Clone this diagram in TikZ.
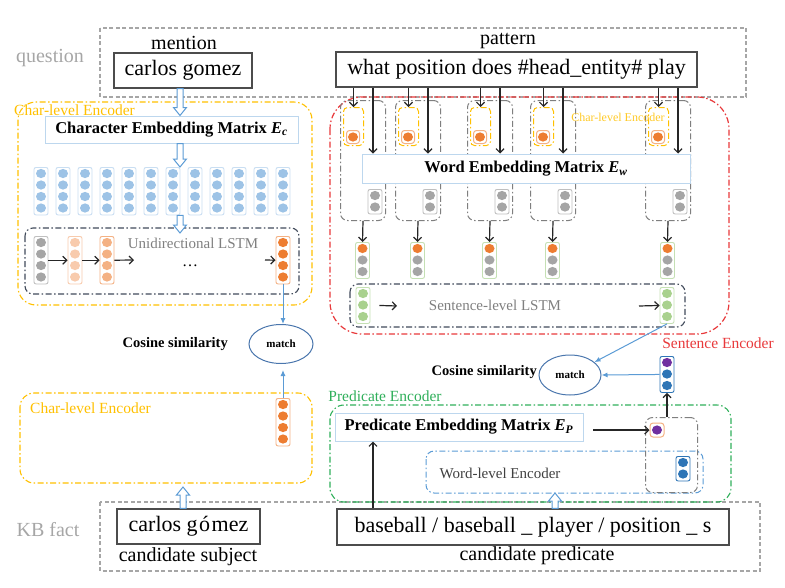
\documentclass[tikz,border=0pt]{standalone}
\usepackage{fontspec}
\setmainfont{Liberation Serif}
\usetikzlibrary{shapes.geometric,arrows.meta,calc}
\definecolor{qgray}{HTML}{A6A6A6}
\definecolor{cyel}{HTML}{FFC000}
\definecolor{cred}{HTML}{E8393B}
\definecolor{cgreen}{HTML}{2FAF5A}
\definecolor{lblue}{HTML}{BDD7EE}
\definecolor{cblue}{HTML}{9DC3E6}
\definecolor{cblueb}{HTML}{C9DEF2}
\definecolor{corange}{HTML}{ED7D31}
\definecolor{corangeb}{HTML}{F4B183}
\definecolor{clorange}{HTML}{F8CBAD}
\definecolor{cmorange}{HTML}{F4B183}
\definecolor{cgrayc}{HTML}{A5A5A5}
\definecolor{cgrayb}{HTML}{BFBFBF}
\definecolor{cgreenc}{HTML}{A9D18E}
\definecolor{cgreenb}{HTML}{C5E0B4}
\definecolor{cdblue}{HTML}{2E75B6}
\definecolor{cpurple}{HTML}{7030A0}
\definecolor{ellc}{HTML}{4A76AD}
\definecolor{lineblue}{HTML}{5B9BD5}
\definecolor{dkdash}{HTML}{404A5A}
\definecolor{unitgray}{HTML}{7F7F7F}
\definecolor{txtgray}{HTML}{7F7F7F}
\definecolor{arrblk}{HTML}{262626}

\newcommand\vstack[6]{%
  \node[draw=#5, line width=0.9pt, rounded corners=2pt, fill=white, minimum width=14pt,
        minimum height={#4*11.5+1.5}, inner sep=0pt, anchor=north] (#1) at (#2,#3) {};
  \foreach \cc [count=\ii] in {#6} {\fill[\cc] (#2,{#3+6.5+(\ii-1)*11.5}) ellipse [x radius=5, y radius=4.6];}
}
\newcommand\hollowarr[2]{%
  \draw[hollow] let \p1=(#1), \p2=(#2), \n1={8*sign(\y1-\y2)} in
   (\x2-3pt,\y1) -- (\x2-3pt,\y2+\n1) -- (\x2-6.5pt,\y2+\n1) -- (\x2,\y2) --
   (\x2+6.5pt,\y2+\n1) -- (\x2+3pt,\y2+\n1) -- (\x2+3pt,\y1) -- cycle;}

\tikzset{
  qbox/.style={draw=qgray, line width=1.1pt, dash pattern=on 4pt off 2.5pt},
  dd/.style={dash pattern=on 6pt off 2.5pt on 1.5pt off 2.5pt},
  yenc/.style={draw=cyel, line width=1.1pt, dd, rounded corners=18pt},
  renc/.style={draw=cred, line width=1.2pt, dd, rounded corners=32pt},
  genc/.style={draw=cgreen, line width=1.1pt, dd, rounded corners=14pt},
  benc/.style={draw=lineblue, line width=1pt, dd, rounded corners=8pt},
  lstm/.style={draw=dkdash, line width=1.1pt, dd, rounded corners=8pt},
  unitbox/.style={draw=unitgray, line width=1pt, dd, rounded corners=7pt, inner sep=0pt},
  ybox/.style={draw=cyel, line width=1pt, dd, rounded corners=4pt, inner sep=0pt},
  txtbox/.style={draw=black!70, line width=1.2pt, fill=white, inner sep=0pt, font=\fontsize{22}{24}\selectfont},
  embbox/.style={draw=lblue, line width=1pt, fill=white, inner sep=0pt, font=\fontsize{16.5}{18}\selectfont},
  lab/.style={font=\fontsize{20}{22}\selectfont},
  glab/.style={font=\fontsize{20}{22}\selectfont, text=qgray},
  ylab/.style={font=\fontsize{15.5}{17}\selectfont, text=cyel, inner sep=0pt},
  mlab/.style={font=\fontsize{15}{17}\selectfont, text=txtgray, inner sep=0pt},
  cos/.style={font=\bfseries\fontsize{14.5}{16}\selectfont, inner sep=0pt},
  matchn/.style={ellipse, draw=ellc, line width=1pt, minimum width=64pt, minimum height=39pt, inner sep=0pt, font=\bfseries\fontsize{11}{12}\selectfont},
  hollow/.style={draw=lineblue, line width=1pt, fill=white},
  blk/.style={draw=arrblk, line width=1.2pt, -{Straight Barb[length=4pt,width=8pt]}},
  blu/.style={draw=lineblue, line width=1pt, -{Latex[length=6pt,width=5pt]}},
  orsq/.style={draw=corangeb, line width=1pt, rounded corners=3pt, fill=white, minimum size=14pt, inner sep=0pt}
}

\begin{document}
\begin{tikzpicture}[x=1pt,y=-1pt]
\useasboundingbox (0,0) rectangle (785,587);

% ---------- question ----------
\draw[qbox] (100,28) rectangle (746,97);
\node[glab] (qlab) at (50,58) {question};
\node[lab] (ment) at (184,43) {mention};
\node[txtbox, minimum width=138, minimum height=35] (cg) at (183,70.5) {carlos gomez};
\node[lab] (patl) at (508,41) {pattern};
\node[txtbox, minimum width=361, minimum height=35] (pat) at (516.5,69.5) {what position does \#head\_entity\# play};

% ---------- left char-level encoder ----------
\draw[yenc] (18,102) rectangle (312,305);
\node[ylab, anchor=west] (ylab1) at (14,110) {Char-level Encoder};
\node[embbox, minimum width=253, minimum height=27] (ce) at (171.5,129.5) {\bfseries Character Embedding Matrix \textit{E}\textsubscript{\textit{c}}};
\hollowarr{cg.south -| 180,0}{ce.north -| 180,0}
\foreach \k in {0,...,11} {
  \vstack{bc\k}{41+22*\k}{167}{4}{cblueb}{cblue,cblue,cblue,cblue}
}
\hollowarr{ce.south -| 180,0}{bc6.north -| 180,0}
\draw[lstm] (25,228) rectangle (299,294);
\node[mlab] (ulab) at (193,243) {Unidirectional LSTM};
\hollowarr{bc6.south -| 180,0}{180,233}
\vstack{lg}{41}{236}{4}{cgrayb}{cgrayc,cgrayc,cgrayc,cgrayc}
\vstack{lo1}{75}{236}{4}{clorange}{clorange,clorange,clorange,clorange}
\vstack{lo2}{107}{236}{4}{cmorange}{cmorange,cmorange,cmorange,cmorange}
\vstack{lo3}{283}{236}{4}{corangeb}{corange,corange,corange,corange}
\coordinate (lfree) at (134,260);
\coordinate (lfree2) at (265,260);
\draw[blk] (lg.east) -- (lo1.west);
\draw[blk] (lo1.east) -- (lo2.west);
\draw[blk] (lo2.east) -- (lfree);
\draw[blk] (lfree2) -- (lo3.west);
\node[font=\fontsize{16}{18}\selectfont, inner sep=0pt, text height=2pt, text depth=0pt, anchor=base] (dots) at (190,266) {\ldots};

% ---------- match left ----------
\node[matchn] (m1) at (281,344) {match};
\node[cos, anchor=east] (cos1) at (228,344) {Cosine similarity};
\draw[blu] (lo3.south) -- (m1.north -| lo3.south);

% ---------- left lower char encoder ----------
\draw[yenc, rounded corners=14pt] (20,393) rectangle (312,483);
\node[ylab, anchor=west] (ylab2) at (30,408) {Char-level Encoder};
\vstack{lo4}{283}{398}{4}{corangeb}{corange,corange,corange,corange}
\draw[blu] (lo4.north) -- ($(m1.south -| lo4.north)+(0,6)$);

% ---------- KB fact ----------
\draw[qbox] (100,502) rectangle (760,571);
\node[glab] (kblab) at (48,530) {KB fact};
\node[txtbox, minimum width=143, minimum height=35] (cs) at (188.5,526.5) {carlos g\kern1.5pt ó\kern1.5pt mez};
\node[lab] (csl) at (188,557) {candidate subject};
\hollowarr{cs.north -| 183,0}{183,487}
\node[txtbox, minimum width=392, minimum height=36] (cp) at (533,527) {baseball / baseball \_ player / position \_ s};
\node[lab] (cpl) at (537,556) {candidate predicate};

% ---------- sentence encoder (red) ----------
\draw[renc] (330,97) rectangle (729,334);
\foreach \i/\xl in {1/340,2/395,3/467,4/530,5/645} {
  \node[unitbox, minimum width=45, minimum height=120, anchor=north west] (u\i) at (\xl,100) {};
  \node[ybox, minimum width=20, minimum height=38, anchor=north west] (y\i) at (\xl+3,107) {};
  \node[orsq, minimum size=13pt] (o\i) at (\xl+13,137) {};
  \fill[corange] (o\i.center) ellipse [x radius=5, y radius=4.6];
  \vstack{g\i}{\xl+35}{189}{2}{cgrayb}{cgrayc,cgrayc}
  \coordinate (lx\i) at (\xl+33,0);
}
\node[font=\fontsize{12}{13}\selectfont, text=cyel!85] (ylab3) at (618,117) {Char-level Encoder};
\node[embbox, minimum width=328, minimum height=29] (we) at (526,168.5) {\bfseries Word Embedding Matrix \textit{E}\textsubscript{\textit{w}}};
\foreach \i in {1,...,5} {
  \draw[blk] (pat.south -| y\i.north) -- (y\i.north);
  \draw[blk] (pat.south -| lx\i) -- (we.north -| lx\i);
}
\foreach \i/\xx in {1/362.5,2/417.5,3/489.5,4/552.5,5/667.5} {
  \vstack{mv\i}{\xx}{242}{3}{cgreenb}{corange,cgrayc,cgrayc}
  \draw[blk] (u\i.south) -- (mv\i.north);
}
\draw[lstm] (350,284) rectangle (685,327);
\vstack{sg1}{363}{287}{3}{cgreenb}{cgreenc,cgreenc,cgreenc}
\vstack{sg2}{667}{287}{3}{cgreenb}{cgreenc,cgreenc,cgreenc}
\node[mlab] (slab) at (495,305) {Sentence-level LSTM};
\coordinate (sf1) at (397,306);
\coordinate (sf2) at (639,306);
\draw[blk] ($(sg1.east)+(9,0)$) -- (sf1);
\draw[blk] (sf2) -- (sg2.west);
\node[font=\fontsize{15.5}{17}\selectfont, text=cred] (rlab) at (718,343) {Sentence Encoder};

% ---------- match right ----------
\node[matchn, minimum width=62pt, minimum height=40pt] (m2) at (570,375) {match};
\node[cos, anchor=east] (cos2) at (537,372) {Cosine similarity};
\vstack{sv}{667}{356}{3}{cdblue}{cpurple,cdblue,cdblue}
\draw[blu] (sg2.south) -- (m2);
\draw[blu] (sv.west) -- (m2.east);

% ---------- predicate encoder ----------
\draw[genc] (330,405) rectangle (731,502);
\node[font=\fontsize{15.5}{17}\selectfont, text=cgreen] (glab) at (385,396) {Predicate Encoder};
\node[embbox, minimum width=248, minimum height=28] (pe) at (459,427) {\bfseries Predicate Embedding Matrix \textit{E}\textsubscript{\textit{P}}};
\draw[benc] (426,451) rectangle (703,493);
\node[font=\fontsize{15}{17}\selectfont, text=black!75] (wlab) at (500,473) {Word-level Encoder};
\node[unitbox, minimum width=52, minimum height=75, anchor=north west] (pu) at (645,417) {};
\node[orsq] (pp) at (657,430) {};
\fill[cpurple] (pp.center) ellipse [x radius=5, y radius=4.6];
\vstack{bv}{683}{456}{2}{cdblue}{cdblue,cdblue}
\coordinate (pef) at (593,430);
\draw[blk] (pef) -- (pp.west);
\draw[blk] (pu.north -| sv.south) -- (sv.south);
\draw[blk] (cp.north -| 373,0) -- (pe.south -| 373,0);
\hollowarr{cp.north -| 555,0}{555,493}
\end{tikzpicture}
\end{document}
